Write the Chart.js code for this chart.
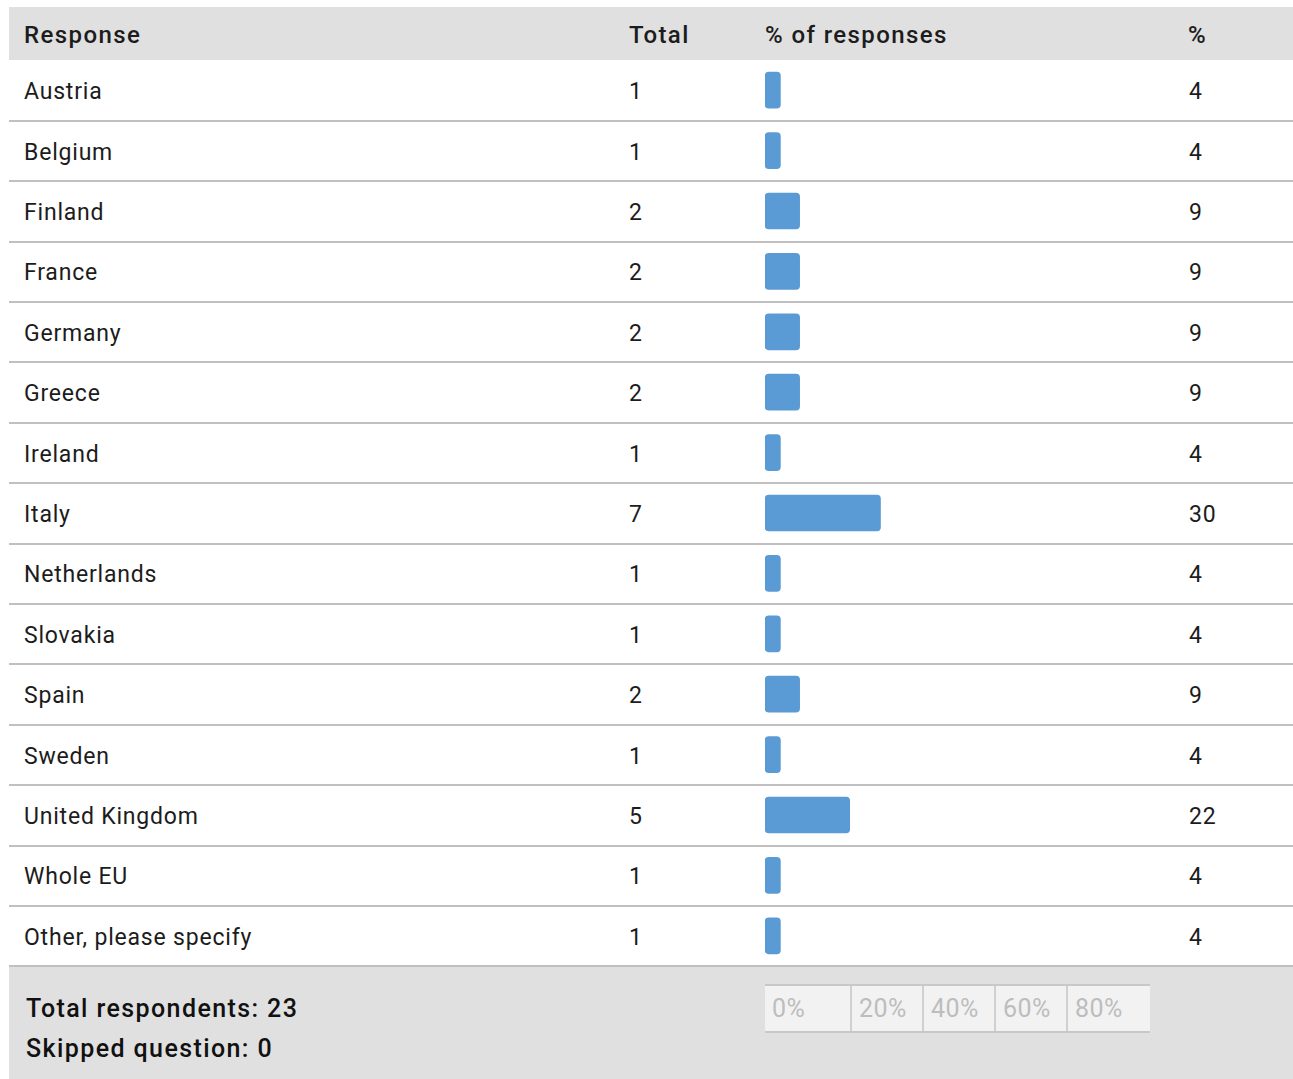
<!DOCTYPE html>
<html>
<head>
<meta charset="utf-8">
<script src="https://cdn.jsdelivr.net/npm/chart.js@4"></script>
<style>
  body { margin: 0; background: #fff; font-family: Roboto, "DejaVu Sans", sans-serif; color: #1c1c1c; }
  #page { position: relative; width: 1293px; height: 1079px; overflow: hidden; }
  .band { position: absolute; left: 9px; right: 0; background: #e0e0e0; }
  .row { position: absolute; left: 9px; right: 0; height: 60px; border-bottom: 2px solid #c0c0c0; box-sizing: border-box; }
  .cell { position: absolute; top: 2px; bottom: 0; display: flex; align-items: center; font-size: 23px; letter-spacing: 0.8px; }
  .head .cell { font-weight: 500; font-size: 24px; letter-spacing: 1.4px; top: 3px; }
  #chartWrap { position: absolute; left: 765px; top: 60px; width: 385px; height: 906px; }
  #axis { position: absolute; left: 765px; top: 984px; width: 385px; height: 49px; background: #f2f2f2;
          border-top: 2px solid #c8c8c8; border-bottom: 2px solid #c8c8c8; box-sizing: border-box; display: flex; }
  #axis div { box-sizing: border-box; border-left: 2px solid #d0d0d0; color: #bdbdbd; font-size: 25px;
              letter-spacing: 0.5px; padding-left: 7px; display: flex; align-items: center; }
  #axis div:first-child { border-left: none; }
  .foot { position: absolute; left: 26px; font-size: 25px; font-weight: 500; color: #111; letter-spacing: 1.4px; }
</style>
</head>
<body>
<div id="page">
  <div class="band" style="top:7px;height:53px;"></div>
  <div class="row head" style="top:7px;height:53px;border:none;">
    <div class="cell" style="left:15px;">Response</div>
    <div class="cell" style="left:620px;">Total</div>
    <div class="cell" style="left:756px;">% of responses</div>
    <div class="cell" style="left:1179px;">%</div>
  </div>
  <div id="rows"></div>
  <div id="chartWrap"><canvas id="bars" width="385" height="906"></canvas></div>
  <div class="band" style="top:967px;height:112px;"></div>
  <div class="foot" style="top:994px;">Total respondents: 23</div>
  <div class="foot" style="top:1034px;">Skipped question: 0</div>
  <div id="axis"></div>
</div>
<script>
// dados da tabela
var categorias = ["Austria", "Belgium", "Finland", "France", "Germany", "Greece", "Ireland", "Italy",
  "Netherlands", "Slovakia", "Spain", "Sweden", "United Kingdom", "Whole EU", "Other, please specify"];
var totais = [1, 1, 2, 2, 2, 2, 1, 7, 1, 1, 2, 1, 5, 1, 1];
var percentuais = [4, 4, 9, 9, 9, 9, 4, 30, 4, 4, 9, 4, 22, 4, 4];
var ticks = ["0%", "20%", "40%", "60%", "80%"];
var tickWidths = [85, 72, 72, 72, 84];

// Monta as linhas da tabela
var rowH = 60.4;
var rows = document.getElementById('rows');
categorias.forEach(function(c, i){
  var r = document.createElement('div');
  r.className = 'row';
  r.style.top = (61.5 + i * rowH) + 'px';
  r.style.height = rowH + 'px';
  r.innerHTML = '<div class="cell" style="left:15px;">' + c + '</div>' +
    '<div class="cell" style="left:620px;">' + totais[i] + '</div>' +
    '<div class="cell" style="left:1180px;">' + percentuais[i] + '</div>';
  rows.appendChild(r);
});

// Eixo inferior
var axis = document.getElementById('axis');
ticks.forEach(function(t, i){
  var d = document.createElement('div');
  d.style.width = tickWidths[i] + 'px';
  d.textContent = t;
  axis.appendChild(d);
});

// Gráfico de barras
new Chart(document.getElementById('bars'), {
  type: 'bar',
  data: {
    labels: categorias,
    datasets: [{
      data: percentuais,
      backgroundColor: '#5b9bd5',
      borderRadius: 4,
      borderSkipped: false,
      barThickness: 36
    }]
  },
  options: {
    indexAxis: 'y',
    responsive: false,
    animation: false,
    layout: { padding: 0 },
    plugins: { legend: { display: false }, tooltip: { enabled: false } },
    scales: {
      x: { display: false, min: 0, max: 100 },
      y: { display: false }
    }
  }
});
</script>
</body>
</html>
